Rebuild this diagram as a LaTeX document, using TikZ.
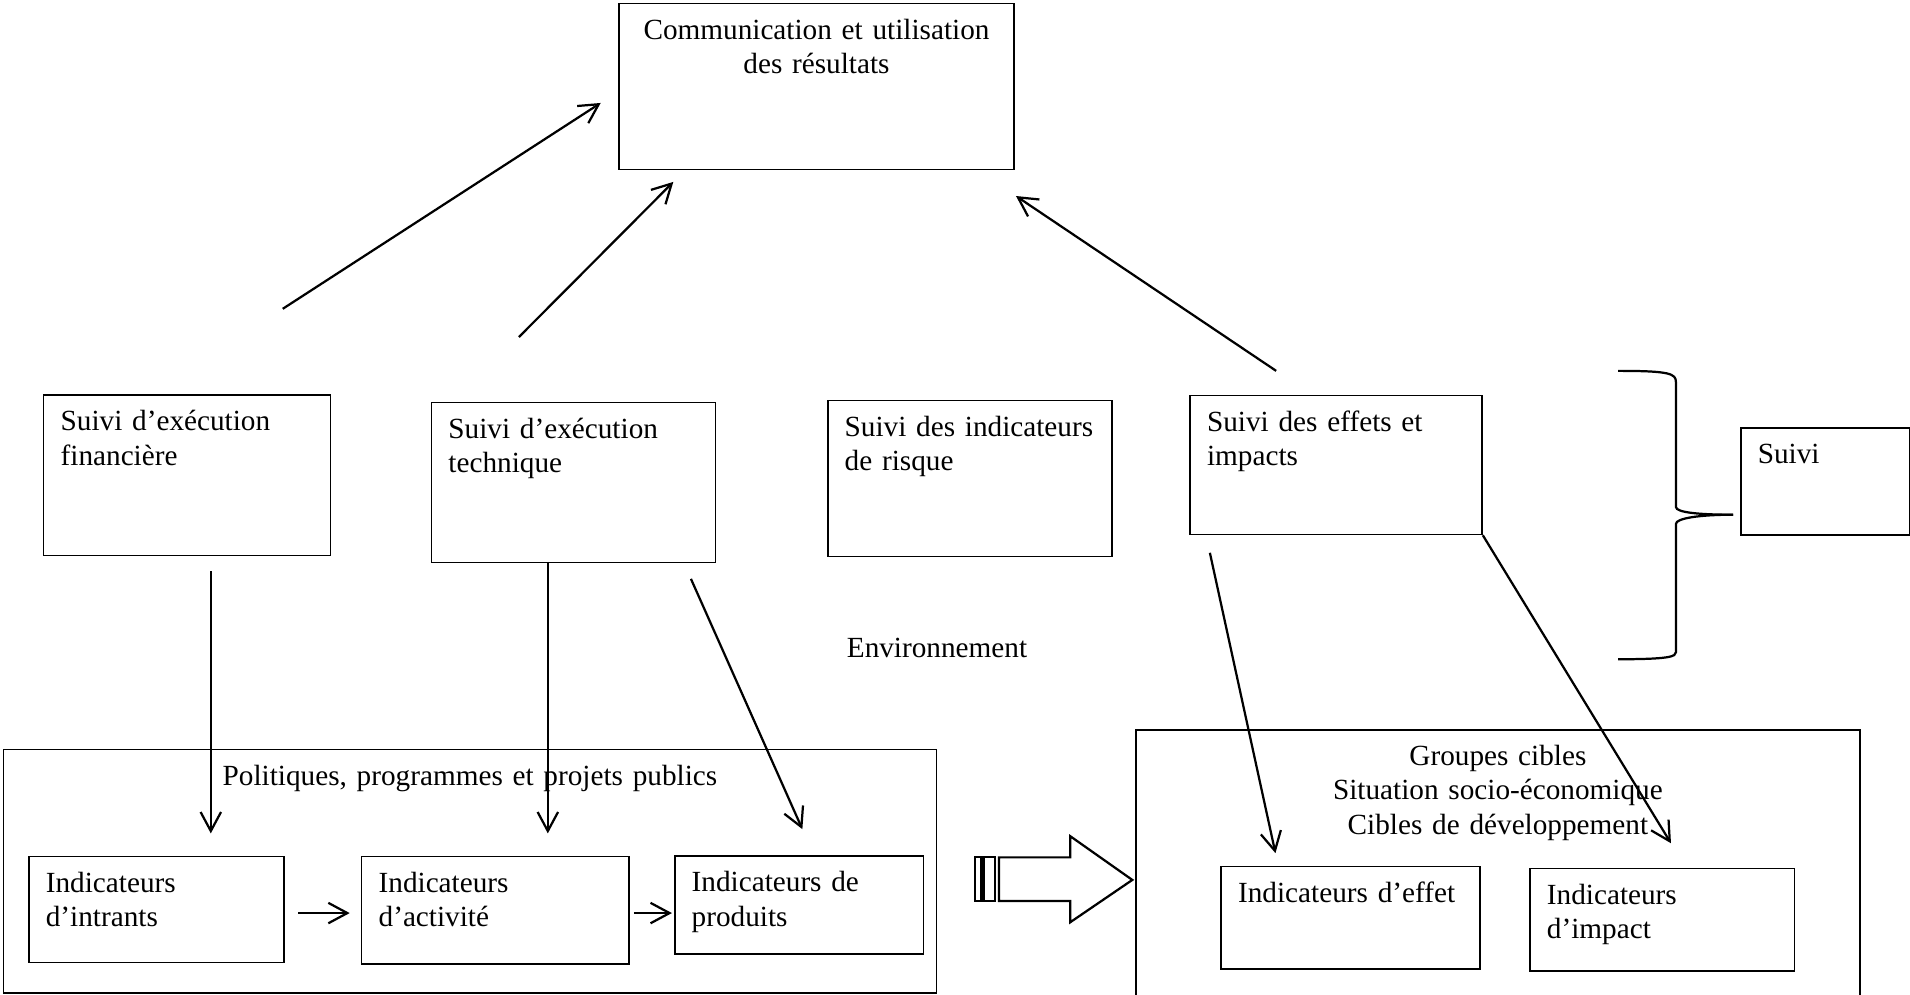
\documentclass[tikz,border=0pt]{standalone}
\usepackage{fontspec}
\setmainfont{Liberation Serif}
\usetikzlibrary{arrows.meta}

\begin{document}
\begin{tikzpicture}[>={Straight Barb[length=2.7mm,width=2.9mm]},
  font=\fontsize{11.8pt}{13.8pt}\selectfont,
  box/.style={draw, line width=0.6pt, anchor=north west, align=left,
    inner xsep=0.24cm, inner ysep=0pt, text height=0.51cm},
  pfeil/.style={->, line width=0.9pt},
  form/.style={line width=0.9pt}]

\useasboundingbox (0,0) rectangle (27.09,-14.10);

% Kommunikation
\node[box, align=center, text width=5.12cm, text depth=1.84cm] (comm) at (8.77,-0.04) {Communication et utilisation\\des résultats};

% Suivi-Kästen
\node[box, text width=3.59cm, text depth=1.77cm] (fin) at (0.61,-5.59) {Suivi d’exécution\\financière};
\node[box, text width=3.55cm, text depth=1.76cm] (tech) at (6.11,-5.70) {Suivi d’exécution\\technique};
\node[box, text width=3.55cm, text depth=1.70cm] (risq) at (11.73,-5.67) {Suivi des indicateurs\\de risque};
\node[box, text width=3.66cm, text depth=1.46cm] (eff) at (16.87,-5.60) {Suivi des effets et\\impacts};
\node[box, text width=1.92cm, text depth=1.01cm] (suivi) at (24.68,-6.06) {Suivi};

% Umfeld
\node[anchor=base] (env) at (13.29,-9.32) {Environnement};

% Politiques
\node[box, align=center, text width=12.75cm, text depth=2.94cm] (pol) at (0.04,-10.62) {Politiques, programmes et projets publics};
\node[box, text width=3.14cm, text depth=0.99cm] (intr) at (0.40,-12.14) {Indicateurs\\d’intrants};
\node[box, text width=3.31cm, text depth=1.01cm] (act) at (5.12,-12.14) {Indicateurs\\d’activité};
\node[box, text width=3.05cm, text depth=0.88cm] (prod) at (9.56,-12.13) {Indicateurs de\\produits};

% Groupes cibles
\node[box, align=center, text width=9.79cm, text depth=3.33cm] (grp) at (16.10,-10.34) {Groupes cibles\\Situation socio-économique\\Cibles de développement};
\node[box, text width=3.19cm, text depth=0.94cm] (effet) at (17.31,-12.28) {Indicateurs d’effet};
\node[box, text width=3.27cm, text depth=0.94cm] (imp) at (21.69,-12.31) {Indicateurs\\d’impact};

% Pfeilenden
\coordinate (f1) at (4.01,-4.38);  \coordinate (k1) at (8.52,-1.46);
\coordinate (t1) at (7.36,-4.78);  \coordinate (k2) at (9.55,-2.58);
\coordinate (w1) at (18.10,-5.26); \coordinate (k3) at (14.41,-2.78);
\coordinate (f2) at (2.99,-8.10);  \coordinate (i1) at (2.99,-11.82);
\coordinate (t2) at (7.77,-7.97);  \coordinate (i2) at (7.77,-11.82);
\coordinate (t3) at (9.80,-8.21);  \coordinate (i3) at (11.38,-11.76);
\coordinate (w2) at (17.16,-7.84); \coordinate (i4) at (18.09,-12.10);
\coordinate (i5) at (23.70,-11.96);
\coordinate (h1) at (4.23,-12.95); \coordinate (h2) at (4.96,-12.95);
\coordinate (h3) at (8.99,-12.95); \coordinate (h4) at (9.53,-12.95);

% nach oben
\draw[pfeil] (f1) -- (k1);
\draw[pfeil] (t1) -- (k2);
\draw[pfeil] (w1) -- (k3);

% nach unten
\draw[pfeil] (f2) -- (i1);
\draw[pfeil] (t2) -- (i2);
\draw[pfeil] (t3) -- (i3);
\draw[pfeil] (w2) -- (i4);
\draw[pfeil] (eff.south east) -- (i5);

% Kette
\draw[pfeil] (h1) -- (h2);
\draw[pfeil] (h3) -- (h4);

% Blockpfeil
\draw[form] (13.83,-12.16) rectangle (13.92,-12.78);
\draw[form] (13.96,-12.16) rectangle (14.11,-12.78);
\draw[form] (14.17,-12.16) -- (15.18,-12.16) -- (15.18,-11.86) -- (16.06,-12.48)
  -- (15.18,-13.08) -- (15.18,-12.78) -- (14.17,-12.78) -- cycle;

% Klammer
\draw[form] (22.95,-5.26) .. controls (23.69,-5.26) and (23.77,-5.30) .. (23.77,-5.42)
  -- (23.77,-7.19) .. controls (23.77,-7.27) and (24.11,-7.30) .. (24.58,-7.30);
\draw[form] (24.58,-7.30) .. controls (24.11,-7.30) and (23.77,-7.35) .. (23.77,-7.43)
  -- (23.77,-9.25) .. controls (23.77,-9.31) and (23.69,-9.35) .. (22.95,-9.35);

\end{tikzpicture}
\end{document}
